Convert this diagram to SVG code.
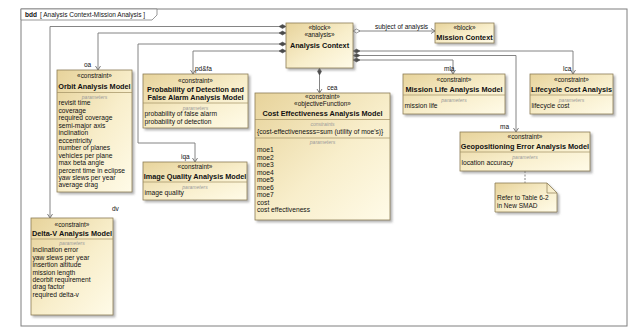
<svg xmlns="http://www.w3.org/2000/svg" width="630" height="328" viewBox="0 0 630 328">
  <defs>
    <linearGradient id="fill" x1="0" y1="0" x2="1" y2="1">
      <stop offset="0" stop-color="#e7d39b"/>
      <stop offset="0.55" stop-color="#f8eecb"/>
      <stop offset="1" stop-color="#fffbe8"/>
    </linearGradient>
    <filter id="shadow" x="-10%" y="-10%" width="130%" height="130%">
      <feDropShadow dx="2" dy="2" stdDeviation="1" flood-color="#777" flood-opacity="0.55"/>
    </filter>
    <marker id="arrow" viewBox="-6 -4 8 8" refX="0" refY="0" markerWidth="8" markerHeight="8" markerUnits="userSpaceOnUse" orient="auto">
      <path d="M-4,-2.5 L0,0 L-4,2.5" fill="none" stroke="#6f6f6f" stroke-width="0.9"/>
    </marker>
    <marker id="compose" viewBox="-1 -3 10 6" refX="0" refY="0" markerWidth="10" markerHeight="6" markerUnits="userSpaceOnUse" orient="auto">
      <path d="M0,0 L3.5,-2 L7,0 L3.5,2 Z" fill="#4a4a4a" stroke="#4a4a4a" stroke-width="0.5"/>
    </marker>
    <marker id="share" viewBox="-1 -3 10 6" refX="0" refY="0" markerWidth="10" markerHeight="6" markerUnits="userSpaceOnUse" orient="auto">
      <path d="M0,0 L3.5,-2 L7,0 L3.5,2 Z" fill="#fff" stroke="#6f6f6f" stroke-width="0.7"/>
    </marker>
  </defs>
  <style>
    text { font-family: "Liberation Sans", Arial, sans-serif; fill: #111; }
    .box { fill: url(#fill); stroke: #8d7d55; stroke-width: 0.8; filter: url(#shadow); }
    .sep { stroke: #a08f62; stroke-width: 0.7; }
    .st { font-size: 6.4px; text-anchor: middle; }
    .nm { font-size: 7.3px; font-weight: bold; text-anchor: middle; }
    .pl { font-size: 5px; font-style: italic; fill: #9a9a9a; text-anchor: middle; }
    .pr { font-size: 6.7px; }
    .lbl { font-size: 6.5px; }
    .conn { fill: none; stroke: #777; stroke-width: 0.9; }
  </style>

  <rect width="630" height="328" fill="#fff"/>

  <!-- diagram frame and name tab -->
  <g id="frame">
    <rect x="21" y="9" width="606" height="317" fill="none" stroke="#7f7f7f" stroke-width="1"/>
    <path d="M21,9 H157 V15 L152,20 H21 Z" fill="#fff" stroke="#7f7f7f" stroke-width="0.8"/>
    <text x="25" y="17" style="font-size:6.5px;font-weight:bold">bdd</text>
    <text x="40" y="17" style="font-size:6.5px">[ Analysis Context-Mission Analysis ]</text>
  </g>

  <!-- connectors -->
  <g id="connectors">
    <path class="conn" d="M286,26.5 H50 V218" marker-start="url(#compose)" marker-end="url(#arrow)"/>
    <path class="conn" d="M286,33 H98 V70" marker-start="url(#compose)" marker-end="url(#arrow)"/>
    <path class="conn" d="M286,44 H138 V143 H195 V162" marker-start="url(#compose)" marker-end="url(#arrow)"/>
    <path class="conn" d="M286,51 H193 V74" marker-start="url(#compose)" marker-end="url(#arrow)"/>
    <path class="conn" d="M319.5,68 V93" marker-start="url(#compose)" marker-end="url(#arrow)"/>
    <path class="conn" d="M353,31 H435" marker-start="url(#share)" marker-end="url(#arrow)"/>
    <path class="conn" d="M353,51 H573 V74" marker-start="url(#compose)" marker-end="url(#arrow)"/>
    <path class="conn" d="M353,55.5 H516 V132" marker-start="url(#compose)" marker-end="url(#arrow)"/>
    <path class="conn" d="M353,60 H453 V74" marker-start="url(#compose)" marker-end="url(#arrow)"/>
    <path class="conn" d="M525,171 V183" style="stroke-dasharray:2,1.5"/>
    <text class="lbl" x="112" y="211">dv</text>
    <text class="lbl" x="84" y="67">oa</text>
    <text class="lbl" x="181" y="158.5">iqa</text>
    <text class="lbl" x="195" y="71">pd&amp;fa</text>
    <text class="lbl" x="327" y="89.5">cea</text>
    <text class="lbl" x="375" y="29">subject of analysis</text>
    <text class="lbl" x="563" y="70.5">lca</text>
    <text class="lbl" x="500" y="128.5">ma</text>
    <text class="lbl" x="444" y="70.5">mla</text>
  </g>

  <g id="analysis-context">
    <rect class="box" x="286" y="23" width="67" height="45"/>
    <text class="st" x="319.5" y="30.2">«block»</text>
    <text class="st" x="319.5" y="37.2">«analysis»</text>
    <text class="nm" x="319.5" y="47.6">Analysis Context</text>
  </g>

  <g id="mission-context">
    <rect class="box" x="435" y="23" width="59" height="20"/>
    <text class="st" x="464.5" y="30.2">«block»</text>
    <text class="nm" x="464.5" y="39.6">Mission Context</text>
  </g>

  <g id="orbit-analysis">
    <rect class="box" x="57" y="70" width="75" height="122"/>
    <text class="st" x="94.5" y="78.3">«constraint»</text>
    <text class="nm" x="94.5" y="88.6">Orbit Analysis Model</text>
    <line class="sep" x1="57" y1="92.5" x2="132" y2="92.5"/>
    <text class="pl" x="94.5" y="98.5">parameters</text>
    <text class="pr" x="58.5" y="105.4">revisit time</text>
    <text class="pr" x="58.5" y="112.9">coverage</text>
    <text class="pr" x="58.5" y="120.3">required coverage</text>
    <text class="pr" x="58.5" y="127.8">semi-major axis</text>
    <text class="pr" x="58.5" y="135.2">inclination</text>
    <text class="pr" x="58.5" y="142.7">eccentricity</text>
    <text class="pr" x="58.5" y="150.1">number of planes</text>
    <text class="pr" x="58.5" y="157.6">vehicles per plane</text>
    <text class="pr" x="58.5" y="165">max beta angle</text>
    <text class="pr" x="58.5" y="172.5">percent time in eclipse</text>
    <text class="pr" x="58.5" y="179.9">yaw slews per year</text>
    <text class="pr" x="58.5" y="187.4">average drag</text>
  </g>

  <g id="probability-detection">
    <rect class="box" x="143" y="74" width="105" height="54"/>
    <text class="st" x="195.5" y="83.2">«constraint»</text>
    <text class="nm" x="195.5" y="91.6">Probability of Detection and</text>
    <text class="nm" x="195.5" y="100">False Alarm Analysis Model</text>
    <line class="sep" x1="143" y1="103" x2="248" y2="103"/>
    <text class="pl" x="195.5" y="109.5">parameters</text>
    <text class="pr" x="144.5" y="116.3">probability of false alarm</text>
    <text class="pr" x="144.5" y="124.3">probability of detection</text>
  </g>

  <g id="image-quality">
    <rect class="box" x="143" y="162" width="104" height="38"/>
    <text class="st" x="195" y="169.2">«constraint»</text>
    <text class="nm" x="195" y="178.6">Image Quality Analysis Model</text>
    <line class="sep" x1="143" y1="182" x2="247" y2="182"/>
    <text class="pl" x="195" y="188.5">parameters</text>
    <text class="pr" x="144.5" y="195.3">image quality</text>
  </g>

  <g id="cost-effectiveness">
    <rect class="box" x="255" y="93" width="135" height="127"/>
    <text class="st" x="322.5" y="99.2">«constraint»</text>
    <text class="st" x="322.5" y="106.2">«objectiveFunction»</text>
    <text class="nm" x="322.5" y="116.1">Cost Effectiveness Analysis Model</text>
    <line class="sep" x1="255" y1="119.5" x2="390" y2="119.5"/>
    <text class="pl" x="322.5" y="125.5">constraints</text>
    <text class="pr" x="257" y="133.8">{cost-effectivenesss=sum (utility of moe's)}</text>
    <line class="sep" x1="255" y1="138" x2="390" y2="138"/>
    <text class="pl" x="322.5" y="144">parameters</text>
    <text class="pr" x="257" y="152.3">moe1</text>
    <text class="pr" x="257" y="159.8">moe2</text>
    <text class="pr" x="257" y="167.3">moe3</text>
    <text class="pr" x="257" y="174.8">moe4</text>
    <text class="pr" x="257" y="182.3">moe5</text>
    <text class="pr" x="257" y="189.8">moe6</text>
    <text class="pr" x="257" y="197.3">moe7</text>
    <text class="pr" x="257" y="204.8">cost</text>
    <text class="pr" x="257" y="212.3">cost effectiveness</text>
  </g>

  <g id="mission-life">
    <rect class="box" x="403" y="74" width="102" height="40"/>
    <text class="st" x="454" y="82.2">«constraint»</text>
    <text class="nm" x="454" y="91.6">Mission Life Analysis Model</text>
    <line class="sep" x1="403" y1="95" x2="505" y2="95"/>
    <text class="pl" x="454" y="101.5">parameters</text>
    <text class="pr" x="404.5" y="108.3">mission life</text>
  </g>

  <g id="lifecycle-cost">
    <rect class="box" x="530" y="74" width="83" height="40"/>
    <text class="st" x="571.5" y="82.2">«constraint»</text>
    <text class="nm" x="571.5" y="91.6">Lifecycle Cost Analysis</text>
    <line class="sep" x1="530" y1="95" x2="613" y2="95"/>
    <text class="pl" x="571.5" y="101.5">parameters</text>
    <text class="pr" x="531.5" y="108.3">lifecycle cost</text>
  </g>

  <g id="geopositioning-error">
    <rect class="box" x="460" y="132" width="130" height="39"/>
    <text class="st" x="525" y="139.2">«constraint»</text>
    <text class="nm" x="525" y="148.6">Geopositioning Error Analysis Model</text>
    <line class="sep" x1="460" y1="152" x2="590" y2="152"/>
    <text class="pl" x="525" y="158.5">parameters</text>
    <text class="pr" x="461.5" y="165.3">location accuracy</text>
  </g>

  <g id="delta-v">
    <rect class="box" x="31" y="218" width="82" height="97"/>
    <text class="st" x="72" y="227.2">«constraint»</text>
    <text class="nm" x="72" y="235.6">Delta-V Analysis Model</text>
    <line class="sep" x1="31" y1="239" x2="113" y2="239"/>
    <text class="pl" x="72" y="244.8">parameters</text>
    <text class="pr" x="32.5" y="252.3">inclination error</text>
    <text class="pr" x="32.5" y="259.7">yaw slews per year</text>
    <text class="pr" x="32.5" y="267.1">insertion altitude</text>
    <text class="pr" x="32.5" y="274.5">mission length</text>
    <text class="pr" x="32.5" y="281.9">deorbit requirement</text>
    <text class="pr" x="32.5" y="289.3">drag factor</text>
    <text class="pr" x="32.5" y="296.7">required delta-v</text>
  </g>

  <g id="smad-note">
    <path class="box" d="M495,183 H547 L557,193 V212 H495 Z"/>
    <path d="M547,183 V193 H557" fill="none" stroke="#8d7d55" stroke-width="0.7"/>
    <text class="lbl" x="497" y="200.3">Refer to Table 6-2</text>
    <text class="lbl" x="497" y="208.3">in New SMAD</text>
  </g>
</svg>
